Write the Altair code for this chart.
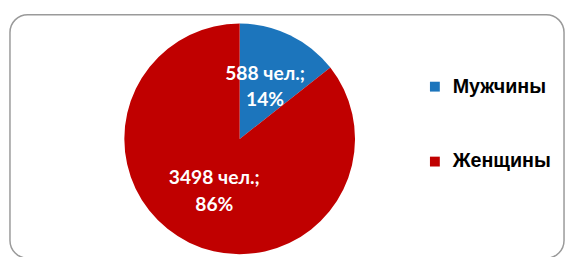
import altair as alt
import pandas as pd

categories = ["Мужчины", "Женщины"]
counts = [588, 3498]
percents = [14, 86]
colors = ["#1C75BC", "#C00000"]

labels = [f"{c} чел.;\n{p}%" for c, p in zip(counts, percents)]
df = pd.DataFrame({
    "cat": categories,
    "count": counts,
    "label": labels,
    "idx": list(range(len(categories))),
})

CX, CY, R = 235, 131, 117

border = alt.Chart(pd.DataFrame({"a": [0]})).mark_rect(
    filled=False, stroke="#9a9a9a", strokeWidth=1.5, cornerRadius=18
).encode(x=alt.value(2), x2=alt.value(564), y=alt.value(5), y2=alt.value(252))

base = alt.Chart(df).encode(
    theta=alt.Theta("count:Q", stack=True),
    order=alt.Order("idx:Q"),
)

pie = base.mark_arc(outerRadius=R).encode(
    color=alt.Color(
        "cat:N",
        scale=alt.Scale(domain=categories, range=colors),
        sort=categories,
        legend=alt.Legend(
            title=None,
            orient="none",
            legendX=423,
            legendY=68,
            symbolType="square",
            symbolSize=100,
            symbolStrokeWidth=0,
            labelFont="Liberation Sans",
            labelFontSize=20,
            labelFontWeight="bold",
            labelColor="black",
            rowPadding=56,
            labelOffset=8,
            padding=0,
        ),
    ),
    x=alt.value(CX),
    y=alt.value(CY),
)

text = base.mark_text(
    radius=59,
    font="Lato",
    fontSize=19.5,
    fontWeight="bold",
    color="white",
    lineBreak="\n",
    lineHeight=27,
    align="center",
    baseline="middle",
    dy=-13,
).encode(text="label:N", x=alt.value(CX), y=alt.value(CY))

chart = alt.layer(border, pie, text).properties(
    width=566,
    height=249,
    autosize=alt.AutoSizeParams(type="none"),
    padding=0,
).configure_view(stroke=None)

chart.save("out.html", embed_options={"renderer": "svg", "actions": False})
